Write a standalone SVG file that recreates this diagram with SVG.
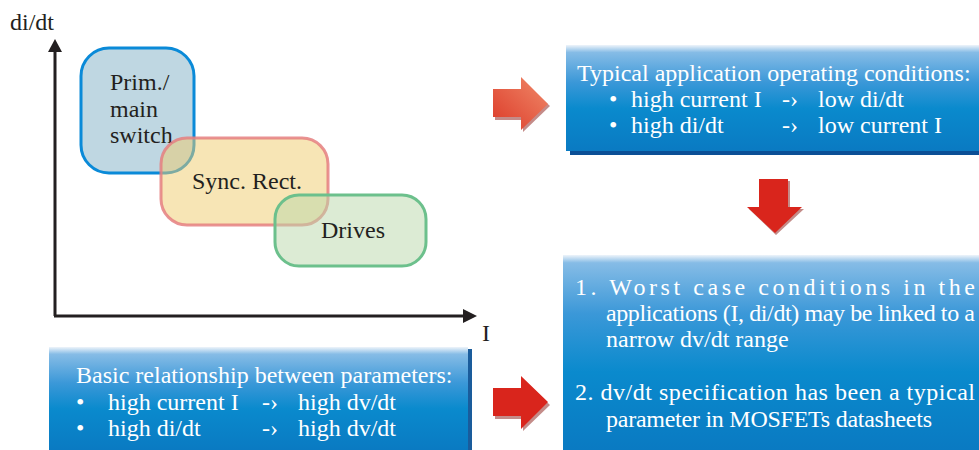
<svg xmlns="http://www.w3.org/2000/svg" width="979" height="450" viewBox="0 0 979 450">
<defs>
<linearGradient id="boxg" x1="0" y1="0" x2="0" y2="1">
<stop offset="0" stop-color="#eef4fa"/>
<stop offset="0.07" stop-color="#86bce6"/>
<stop offset="0.35" stop-color="#3b98d8"/>
<stop offset="0.6" stop-color="#0a8acd"/>
<stop offset="1" stop-color="#0a7ac2"/>
</linearGradient>
<linearGradient id="boxg2" x1="0" y1="0" x2="0" y2="1">
<stop offset="0" stop-color="#eef4fa"/>
<stop offset="0.04" stop-color="#86bce6"/>
<stop offset="0.3" stop-color="#3b98d8"/>
<stop offset="0.6" stop-color="#0a8acd"/>
<stop offset="1" stop-color="#0a7ac2"/>
</linearGradient>
<linearGradient id="arrg" x1="0" y1="1" x2="1" y2="0">
<stop offset="0" stop-color="#dc3a28"/>
<stop offset="1" stop-color="#f08a6a"/>
</linearGradient>
</defs>
<style>
.t{font-family:"Liberation Serif","Times New Roman",serif;font-size:24px;fill:#231f20}
.w{font-family:"Liberation Serif","Times New Roman",serif;font-size:24px;fill:#ffffff}
.ax{stroke:#231f20;stroke-width:3;fill:none}
.red{fill:#d9251c}
.sh{fill:#8a1a14;opacity:0.5}
</style>

<g id="axes">
<line class="ax" x1="55" y1="50" x2="55" y2="316"/>
<line class="ax" x1="54" y1="316" x2="466" y2="316"/>
<polygon points="55,39 48,52 62,52" fill="#231f20"/>
<polygon points="477,316 463,309 463,323" fill="#231f20"/>
<text class="t" x="10" y="30">di/dt</text>
<text class="t" x="482" y="341">I</text>
</g>

<g id="prim">
<rect x="81" y="48" width="113" height="125" rx="28" fill="#7fb0c6" fill-opacity="0.5" stroke="#0a8ad8" stroke-width="3"/>
<text class="t" x="110" y="90">Prim./</text>
<text class="t" x="110" y="117">main</text>
<text class="t" x="110" y="143">switch</text>
</g>

<g id="sync">
<rect x="161" y="138" width="167" height="87" rx="26" fill="#f0cc6b" fill-opacity="0.5" stroke="#e57f80" stroke-opacity="0.85" stroke-width="3"/>
<text class="t" x="192" y="189">Sync. Rect.</text>
</g>

<g id="drives">
<rect x="275" y="195" width="151" height="71" rx="24" fill="#b9d7a9" fill-opacity="0.5" stroke="#6cc08c" stroke-width="3"/>
<text class="t" x="321" y="238">Drives</text>
</g>

<g id="box-typical">
<rect x="570" y="149" width="409" height="6" fill="#0b4f96"/>
<rect x="566" y="45" width="413" height="106" fill="url(#boxg)"/>
<text class="w" x="577" y="81">Typical application operating conditions:</text>
<text class="w" x="609" y="107">•</text>
<text class="w" x="631" y="107">high current I</text>
<text class="w" x="782" y="107">-›</text>
<text class="w" x="818" y="107">low di/dt</text>
<text class="w" x="609" y="133">•</text>
<text class="w" x="631" y="133">high di/dt</text>
<text class="w" x="782" y="133">-›</text>
<text class="w" x="818" y="133">low current I</text>
</g>

<g id="box-worst">
<rect x="563" y="255" width="416" height="195" fill="url(#boxg2)"/>
<text class="w" x="575" y="295" textLength="400" lengthAdjust="spacing">1. Worst case conditions in the</text>
<text class="w" x="606" y="321" textLength="369" lengthAdjust="spacing">applications (I, di/dt) may be linked to a</text>
<text class="w" x="606" y="347">narrow  dv/dt range</text>
<text class="w" x="575" y="400" textLength="400" lengthAdjust="spacing">2.  dv/dt specification has been a typical</text>
<text class="w" x="606" y="427" textLength="326" lengthAdjust="spacing">parameter in MOSFETs datasheets</text>
</g>

<g id="box-basic">
<rect x="466" y="349" width="6" height="101" fill="#1a5c9c"/>
<rect x="49" y="347" width="419" height="103" fill="url(#boxg)"/>
<text class="w" x="76" y="383">Basic relationship between parameters:</text>
<text class="w" x="76" y="410">•</text>
<text class="w" x="108" y="410">high current I</text>
<text class="w" x="262" y="410">-›</text>
<text class="w" x="298" y="410">high dv/dt</text>
<text class="w" x="76" y="436">•</text>
<text class="w" x="108" y="436">high di/dt</text>
<text class="w" x="262" y="436">-›</text>
<text class="w" x="298" y="436">high dv/dt</text>
</g>

<g id="connectors">
<polygon class="sh" points="495,92 523,92 523,81 550,106 523,132 523,120 495,120"/>
<polygon points="493,89 521,89 521,77 548,104 521,130 521,117 493,117" fill="url(#arrg)"/>
<polygon class="sh" points="761,181 790,181 790,209 804,209 776,235 749,209 761,209"/>
<polygon class="red" points="759,179 788,179 788,207 802,207 775,233 747,207 759,207"/>
<polygon class="sh" points="495,391 523,391 523,379 550,405 523,431 523,419 495,419"/>
<polygon class="red" points="493,388 521,388 521,376 548,402 521,429 521,416 493,416"/>
</g>
</svg>
